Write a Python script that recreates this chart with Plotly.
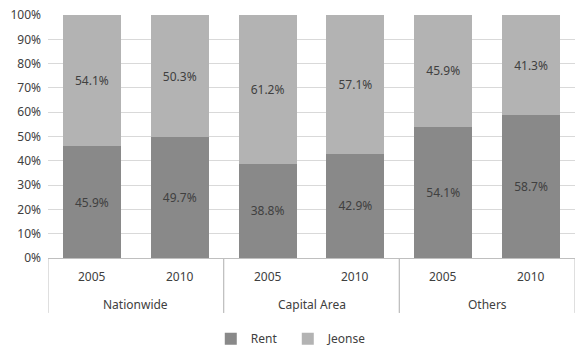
import plotly.graph_objects as go

regions = ["Nationwide", "Nationwide", "Capital Area", "Capital Area", "Others", "Others"]
years = ["2005", "2010", "2005", "2010", "2005", "2010"]
rent = [45.9, 49.7, 38.8, 42.9, 54.1, 58.7]
jeonse = [54.1, 50.3, 61.2, 57.1, 45.9, 41.3]
y_ticks = [0, 10, 20, 30, 40, 50, 60, 70, 80, 90, 100]

FONT = "Noto Sans"
TEXT = "#404040"
LINE = "#bfbfbf"
SIZE = 12

# one category per (region, year) bar
keys = [f"{r}|{y}" for r, y in zip(regions, years)]

fig = go.Figure()
for name, vals, color in [("Rent", rent, "#898989"), ("Jeonse", jeonse, "#b3b3b3")]:
    fig.add_trace(go.Bar(
        name=name,
        x=keys,
        y=vals,
        marker=dict(color=color, line=dict(width=0)),
        text=[f"{v:.1f}%" for v in vals],
        textposition="inside",
        insidetextanchor="middle",
        textfont=dict(family=FONT, size=SIZE, color=TEXT),
        textangle=0,
    ))

# two-level category labels below the axis
annotations = []
for k, yr in zip(keys, years):
    annotations.append(dict(x=k, y=-0.078, xref="x", yref="paper", text=yr,
                            showarrow=False, yanchor="middle",
                            font=dict(family=FONT, size=SIZE, color=TEXT)))
group_names = list(dict.fromkeys(regions))
shapes = []
for gi, g in enumerate(group_names):
    idx = [i for i, r in enumerate(regions) if r == g]
    center = (idx[0] + idx[-1]) / 2
    annotations.append(dict(x=center, y=-0.193, xref="x", yref="paper", text=g,
                            showarrow=False, yanchor="middle",
                            font=dict(family=FONT, size=SIZE, color=TEXT)))
    for edge in (idx[0] - 0.5, idx[-1] + 0.5):
        shapes.append(dict(type="line", xref="x", yref="paper",
                           x0=edge, x1=edge, y0=0, y1=-0.226,
                           line=dict(color=LINE, width=1)))

fig.update_layout(
    barmode="stack",
    bargap=0.34,
    width=575,
    height=346,
    margin=dict(l=48, r=0, t=15, b=88, autoexpand=False),
    paper_bgcolor="white",
    plot_bgcolor="white",
    font=dict(family=FONT, size=SIZE, color=TEXT),
    annotations=annotations,
    shapes=shapes,
    legend=dict(
        orientation="h",
        x=0.455, xanchor="center",
        y=-0.392, yanchor="bottom",
        font=dict(family=FONT, size=SIZE, color=TEXT),
        itemwidth=30,
        entrywidth=32,
        traceorder="normal",
    ),
    xaxis=dict(
        type="category",
        showticklabels=False,
        showline=True,
        linecolor=LINE,
        linewidth=1,
        showgrid=False,
        ticks="",
        range=[-0.5, 5.5],
    ),
    yaxis=dict(
        range=[0, 100],
        tickvals=y_ticks,
        ticktext=[f"{v}%" for v in y_ticks],
        showgrid=True,
        gridcolor="#d9d9d9",
        gridwidth=1,
        zeroline=False,
        showline=False,
        ticks="",
        ticklabelstandoff=6,
        tickfont=dict(family=FONT, size=SIZE, color=TEXT),
    ),
)

fig.write_html("out.html")
